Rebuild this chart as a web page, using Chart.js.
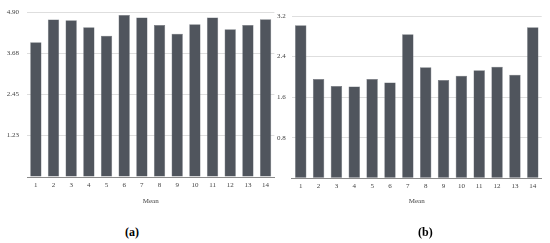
<!DOCTYPE html>
<html>
<head>
<meta charset="utf-8">
<script src="https://cdn.jsdelivr.net/npm/chart.js@4"></script>
<style>
  body { margin: 0; background: #fff; width: 550px; height: 243px; position: relative; overflow: hidden; }
  .box { position: absolute; top: 0; width: 280px; height: 212px; }
  .cap { position: absolute; top: 225px; font: bold 12px "Liberation Serif", serif; color: #000; }
</style>
</head>
<body>
<div class="box" style="left:0"><canvas id="chartA"></canvas></div>
<div class="box" style="left:270px"><canvas id="chartB"></canvas></div>
<div class="cap" style="left:125px">(a)</div>
<div class="cap" style="left:418px">(b)</div>
<script>
// categories (shared by both panels)
const categories = ['1', '2', '3', '4', '5', '6', '7', '8', '9', '10', '11', '12', '13', '14'];

// panel (a)
const meansA = [4.01, 4.68, 4.66, 4.45, 4.20, 4.82, 4.74, 4.52, 4.26, 4.54, 4.74, 4.39, 4.52, 4.69];
const yTicksA = [0, 1.23, 2.45, 3.68, 4.90];

// panel (b)
const meansB = [3.02, 1.96, 1.82, 1.81, 1.96, 1.89, 2.84, 2.19, 1.94, 2.02, 2.13, 2.20, 2.04, 2.98];
const yTicksB = [0, 0.8, 1.6, 2.4, 3.2];

const barColor = '#50555d';
const tickFont = { family: '"Liberation Serif", serif', size: 7 };

function makeChart(id, values, ticks, digits, cfg) {
    return new Chart(document.getElementById(id), {
        type: 'bar',
        data: {
            labels: categories,
            datasets: [{
                label: 'Mean',
                data: values,
                backgroundColor: barColor,
                borderColor: '#6a6f77',
                borderWidth: 0.5,
                barPercentage: 0.64,
                categoryPercentage: 1
            }]
        },
        options: {
            responsive: true,
            maintainAspectRatio: false,
            animation: false,
            layout: { padding: { top: cfg.top, right: cfg.right, left: 0, bottom: 0 } },
            plugins: { legend: { display: false }, tooltip: { enabled: false } },
            scales: {
                x: {
                    grid: { display: false, drawTicks: false },
                    border: { display: true, color: '#8a8a8a', width: 1 },
                    ticks: { color: '#444', font: tickFont, padding: 4, maxRotation: 0 },
                    title: { display: true, text: 'Mean', color: '#444', font: tickFont, padding: { top: 0, bottom: 7 } },
                    afterFit: s => { s.height = cfg.xh; }
                },
                y: {
                    min: 0,
                    max: ticks[ticks.length - 1],
                    grid: { color: '#dedede', drawTicks: false, lineWidth: 1 },
                    border: { display: false },
                    afterBuildTicks: s => { s.ticks = ticks.map(v => ({ value: v })); },
                    ticks: {
                        color: '#444', font: tickFont, padding: cfg.ypad,
                        callback: v => v === 0 ? '' : v.toFixed(digits)
                    },
                    afterFit: s => { s.width = cfg.yw; }
                }
            }
        }
    });
}

makeChart('chartA', meansA, yTicksA, 2, { top: 9.5, right: 5.6, xh: 35, yw: 27, ypad: 8 });
makeChart('chartB', meansB, yTicksB, 1, { top: 16, right: 8.3, xh: 33.7, yw: 21.8, ypad: 6 });
</script>
</body>
</html>
